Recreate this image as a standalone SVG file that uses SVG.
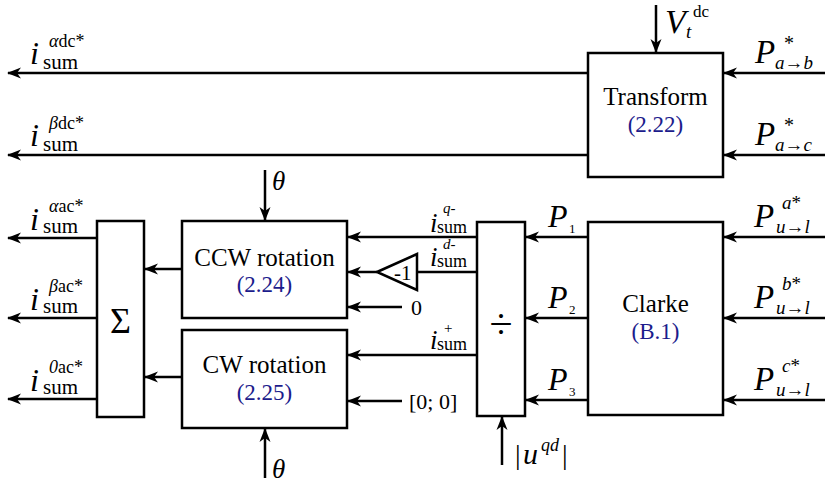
<svg xmlns="http://www.w3.org/2000/svg" width="825" height="483" viewBox="0 0 825 483">
<style>
.box{fill:#fff;stroke:#000;stroke-width:2.5}
.ln{fill:none;stroke:#000;stroke-width:2.5;marker-end:url(#ah)}
.it{font-style:italic}
.bl{fill:#1c1c8c}
.c{text-anchor:middle}
</style>
<defs>
<marker id="ah" markerUnits="userSpaceOnUse" markerWidth="14" markerHeight="12" viewBox="0 -6 14 12" refX="13" refY="0" orient="auto">
<path d="M0,-5.5 L14,0 L0,5.5 L4,0 z" fill="#000"/>
</marker>
</defs>

<g id="connectors">
<line class="ln" x1="588" y1="73" x2="8" y2="73"/>
<line class="ln" x1="588" y1="155" x2="8" y2="155"/>
<line class="ln" x1="825" y1="73" x2="724" y2="73"/>
<line class="ln" x1="825" y1="155" x2="724" y2="155"/>
<line class="ln" x1="656" y1="5" x2="656" y2="52"/>
<line class="ln" x1="97" y1="238" x2="8" y2="238"/>
<line class="ln" x1="97" y1="318" x2="8" y2="318"/>
<line class="ln" x1="97" y1="399" x2="8" y2="399"/>
<line class="ln" x1="182" y1="269" x2="145" y2="269"/>
<line class="ln" x1="182" y1="377" x2="145" y2="377"/>
<line class="ln" x1="265" y1="170" x2="265" y2="220"/>
<line class="ln" x1="265" y1="478" x2="265" y2="429"/>
<line class="ln" x1="477" y1="237" x2="348" y2="237"/>
<line fill="none" stroke="#000" stroke-width="2.5" x1="477" y1="272" x2="417" y2="272"/>
<line class="ln" x1="377" y1="272" x2="348" y2="272"/>
<line class="ln" x1="402" y1="307" x2="348" y2="307"/>
<line class="ln" x1="477" y1="355" x2="348" y2="355"/>
<line class="ln" x1="402" y1="401" x2="348" y2="401"/>
<line class="ln" x1="588" y1="237" x2="526" y2="237"/>
<line class="ln" x1="588" y1="318" x2="526" y2="318"/>
<line class="ln" x1="588" y1="400" x2="526" y2="400"/>
<line class="ln" x1="502" y1="465" x2="502" y2="417"/>
<line class="ln" x1="825" y1="237" x2="724" y2="237"/>
<line class="ln" x1="825" y1="318" x2="724" y2="318"/>
<line class="ln" x1="825" y1="400" x2="724" y2="400"/>
</g>

<g font-family="'Liberation Serif', 'Times New Roman', Tinos, 'DejaVu Serif', serif" fill="#000">
<g id="transform">
<rect class="box" x="588" y="53" width="135" height="124"/>
<text class="c" x="655.5" y="105" font-size="25">Transform</text>
<text class="c bl" x="655.5" y="132" font-size="23">(2.22)</text>
</g>

<g id="sum">
<rect class="box" x="97" y="221" width="47" height="196"/>
<text class="c" x="120.5" y="333" font-size="36">Σ</text>
</g>

<g id="ccw">
<rect class="box" x="182" y="221" width="165" height="97"/>
<text class="c" x="264.5" y="266" font-size="25">CCW rotation</text>
<text class="c bl" x="264.5" y="292" font-size="23">(2.24)</text>
</g>

<g id="cw">
<rect class="box" x="182" y="330" width="165" height="98"/>
<text class="c" x="264.5" y="373" font-size="25">CW rotation</text>
<text class="c bl" x="264.5" y="400" font-size="23">(2.25)</text>
</g>

<g id="gain">
<polygon points="377,272 417,254 417,290" fill="#fff" stroke="#000" stroke-width="2.5"/>
<text x="394" y="280" font-size="21">-1</text>
</g>

<g id="divide">
<rect class="box" x="477" y="222" width="48" height="194"/>
<text class="c" x="501" y="338" font-size="42">÷</text>
</g>

<g id="clarke">
<rect class="box" x="588" y="222" width="135" height="193"/>
<text class="c" x="655.5" y="312" font-size="25">Clarke</text>
<text class="c bl" x="655.5" y="339" font-size="23">(B.1)</text>
</g>

<g id="labels">
<text class="it" x="30" y="64" font-size="32">i</text>
<text x="43" y="69" font-size="21">sum</text>
<text x="49" y="47" font-size="18"><tspan class="it">α</tspan>dc*</text>
<text class="it" x="30" y="146" font-size="32">i</text>
<text x="43" y="151" font-size="21">sum</text>
<text x="49" y="129" font-size="18"><tspan class="it">β</tspan>dc*</text>

<text class="it" x="30" y="230" font-size="32">i</text>
<text x="43" y="233" font-size="21">sum</text>
<text x="49" y="212" font-size="18"><tspan class="it">α</tspan>ac*</text>
<text class="it" x="30" y="310" font-size="32">i</text>
<text x="43" y="313" font-size="21">sum</text>
<text x="49" y="292" font-size="18"><tspan class="it">β</tspan>ac*</text>
<text class="it" x="30" y="391" font-size="32">i</text>
<text x="43" y="394" font-size="21">sum</text>
<text x="49" y="373" font-size="18"><tspan class="it">0</tspan>ac*</text>

<text class="it" x="665" y="33" font-size="34">V</text>
<text class="it" x="686" y="38" font-size="19">t</text>
<text x="693" y="17" font-size="17">dc</text>

<text class="it" x="755" y="63" font-size="33">P</text>
<text x="784" y="50" font-size="20">*</text>
<text class="it" x="775" y="69" font-size="19">a→b</text>
<text class="it" x="755" y="145" font-size="33">P</text>
<text x="784" y="132" font-size="20">*</text>
<text class="it" x="775" y="151" font-size="19">a→c</text>

<text class="it" x="754" y="227" font-size="33">P</text>
<text x="782" y="209" font-size="19"><tspan class="it">a</tspan>*</text>
<text class="it" x="776" y="233" font-size="19">u→l</text>
<text class="it" x="754" y="308" font-size="33">P</text>
<text x="782" y="290" font-size="19"><tspan class="it">b</tspan>*</text>
<text class="it" x="776" y="314" font-size="19">u→l</text>
<text class="it" x="754" y="390" font-size="33">P</text>
<text x="782" y="372" font-size="19"><tspan class="it">c</tspan>*</text>
<text class="it" x="776" y="396" font-size="19">u→l</text>

<text class="it" x="548" y="227" font-size="32">P</text>
<text x="569" y="233" font-size="13">1</text>
<text class="it" x="548" y="308" font-size="32">P</text>
<text x="569" y="314" font-size="13">2</text>
<text class="it" x="548" y="390" font-size="32">P</text>
<text x="569" y="396" font-size="13">3</text>

<text x="515" y="464" font-size="28">|</text>
<text class="it" x="523" y="464" font-size="30">u</text>
<text class="it" x="541" y="451" font-size="18">qd</text>
<text x="562" y="464" font-size="28">|</text>

<text class="it" x="272" y="190" font-size="27">θ</text>
<text class="it" x="272" y="478" font-size="27">θ</text>

<text class="it" x="430" y="232" font-size="27">i</text>
<text x="437" y="233" font-size="18">sum</text>
<text class="it" x="443" y="213" font-size="15">q-</text>
<text class="it" x="430" y="266" font-size="27">i</text>
<text x="437" y="267" font-size="18">sum</text>
<text class="it" x="443" y="249" font-size="15">d-</text>
<text class="it" x="430" y="349" font-size="27">i</text>
<text x="437" y="350" font-size="18">sum</text>
<text x="444" y="333" font-size="15">+</text>

<text x="411" y="315" font-size="22">0</text>
<text x="409" y="409" font-size="22">[0; 0]</text>
</g>
</g>
</svg>
